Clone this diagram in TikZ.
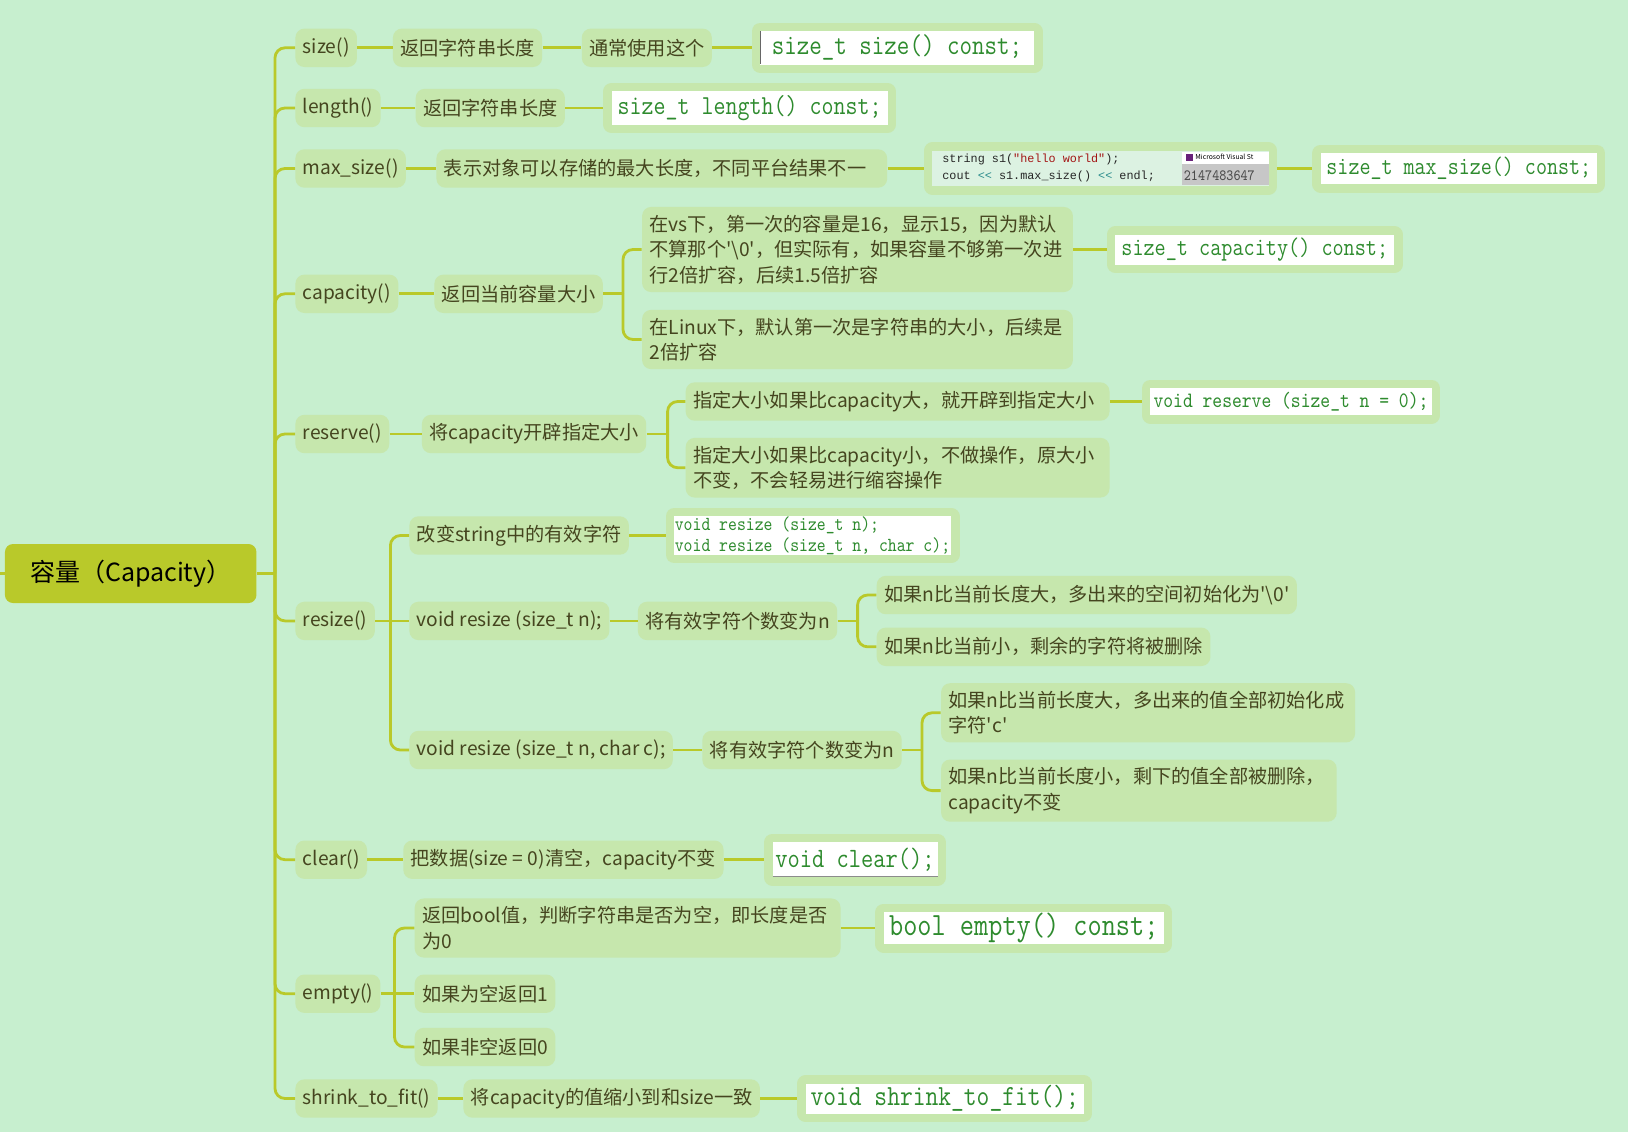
\documentclass[tikz,border=0pt]{standalone}
\usepackage{fontspec}
\setmainfont{Noto Sans CJK SC}
\newfontfamily\codefont[FakeStretch=0.85]{Latin Modern Mono}
\newfontfamily\shotfont{Liberation Mono}
\definecolor{paper}{HTML}{C7EFCF}
\definecolor{leafgreen}{HTML}{C6E7AD}
\definecolor{branch}{HTML}{B9C92A}
\definecolor{ink}{HTML}{45451F}
\definecolor{codegreen}{HTML}{2E8B2E}
\definecolor{shotbg}{HTML}{DCF2E2}
\definecolor{strred}{HTML}{A31515}
\definecolor{opteal}{HTML}{2B8C8C}
\definecolor{vspurple}{HTML}{68217A}

\begin{document}
\begin{tikzpicture}[x=0.5pt,y=-0.5pt,
  link/.style={branch,line width=1.4pt},
  elbow/.style={link,rounded corners=5pt},
  root/.style={fill=branch,rounded corners=4pt,minimum width=125.75pt,minimum height=29.5pt,
    font=\fontsize{12.5}{15}\selectfont,text=black},
  leaf/.style={fill=leafgreen,rounded corners=4.5pt,anchor=west,inner xsep=3.7pt,inner ysep=4pt,
    minimum height=19.2pt,text=ink,align=left,font=\fontsize{9.6}{12.7}\selectfont},
  codebox/.style={fill=white,preaction={draw=leafgreen,line width=8.5pt,line join=round},
    outer sep=4.25pt,inner sep=0pt,text=codegreen},
  codesize/.style={font=\codefont\fontsize{#1}{#1}\selectfont}]

  \useasboundingbox (0,0) rectangle (1628,1132);
  \fill[paper] (0,0) rectangle (1628,1132);

  % root and first level
  \node[root] (root) at (130.7,573.5) {容量（Capacity）};
  \coordinate (feed) at (0,573.5);
  \coordinate (hub) at (275,573.5);
  \node[leaf] (fsize) at (295,47.8) {size()};
  \node[leaf] (flength) at (295,108) {length()};
  \node[leaf] (fmax) at (295,168.5) {max\_size()};
  \node[leaf] (fcap) at (295,293.8) {capacity()};
  \node[leaf] (fres) at (295,434) {reserve()};
  \node[leaf] (fresize) at (295,620.9) {resize()};
  \node[leaf] (fclear) at (295,859.7) {clear()};
  \node[leaf] (fempty) at (295,993.7) {empty()};
  \node[leaf] (fshrink) at (295,1098.5) {shrink\_to\_fit()};

  % size / length / max_size
  \node[leaf] (sizeA) at (392.5,47.8) {返回字符串长度};
  \node[leaf] (sizeB) at (581.4,47.8) {通常使用这个};
  \node[codebox,codesize=14.3,minimum width=137pt,minimum height=16.7pt] (scode) at (897,47.8) {size\_t size() const;};
  \draw[black!60,line width=0.7pt] (760.5,31) -- (760.5,64.4);
  \node[leaf] (lenA) at (415.3,108) {返回字符串长度};
  \node[codebox,codesize=13.7,minimum width=138pt,minimum height=16.6pt] (lcode) at (749.6,108) {size\_t length() const;};
  \node[leaf,text width=218pt] (maxA) at (436,168.5) {表示对象可以存储的最大长度，不同平台结果不一};
  \node[codebox,fill=shotbg,minimum width=168.2pt,minimum height=17.7pt] (shot) at (1100.6,168.5) {};
  \fill[white] (1181.6,151.6) rectangle (1268.8,163.5);
  \fill[black!22] (1181.6,163.5) rectangle (1268.8,185.4);
  \node[anchor=base west,inner sep=0pt,font=\shotfont\fontsize{5.9}{7}\selectfont,text=black!85] (shotA) at (942,162.5)
    {string s1(\textcolor{strred}{"hello world"});};
  \node[anchor=base west,inner sep=0pt,font=\shotfont\fontsize{5.9}{7}\selectfont,text=black!85] (shotB) at (942,179)
    {cout \textcolor{opteal}{<{}<} s1.max\_size() \textcolor{opteal}{<{}<} endl;};
  \fill[vspurple] (1186,153.5) rectangle (1193,160.5);
  \node[anchor=west,inner sep=0pt,font=\fontsize{3.4}{4}\selectfont,text=black] (shotT) at (1195,157.2) {Microsoft Visual St};
  \node[anchor=base west,inner sep=0pt,font=\codefont\fontsize{7.85}{8}\selectfont,text=black!70] (shotN) at (1183.5,180) {2147483647};
  \node[codebox,codesize=12.6,minimum width=138pt,minimum height=15.5pt] (mcode) at (1458.8,168.5) {size\_t max\_size() const;};

  % capacity
  \node[leaf] (capA) at (434,293.8) {返回当前容量大小};
  \coordinate (capK) at (623,293.8);
  \node[leaf,text width=208pt] (capVs) at (641.7,249.5)
    {在vs下，第一次的容量是16，显示15，因为默认\\不算那个\textquotesingle\textbackslash0\textquotesingle，但实际有，如果容量不够第一次进\\行2倍扩容，后续1.5倍扩容};
  \node[leaf,text width=208pt] (capLinux) at (641.7,339.5) {在Linux下，默认第一次是字符串的大小，后续是\\2倍扩容};
  \node[codebox,codesize=12.7,minimum width=139.5pt,minimum height=15pt] (ccode) at (1254.8,249.5) {size\_t capacity() const;};

  % reserve
  \node[leaf] (resA) at (421.5,434) {将capacity开辟指定大小};
  \coordinate (resK) at (667.6,434);
  \node[leaf,text width=204.5pt] (resBig) at (685.3,401.5) {指定大小如果比capacity大，就开辟到指定大小};
  \node[leaf,text width=204.5pt] (resSmall) at (685.3,467.7) {指定大小如果比capacity小，不做操作，原大小\\不变，不会轻易进行缩容操作};
  \node[codebox,codesize=11,minimum width=140.7pt,minimum height=13.5pt] (rcode) at (1291,401.5) {void reserve (size\_t n = 0);};

  % resize
  \coordinate (rzK) at (390.4,620.9);
  \node[leaf] (rzA) at (409,535.5) {改变string中的有效字符};
  \node[codebox,font=\codefont\fontsize{9.95}{10.4}\selectfont,align=left,minimum width=138.5pt,minimum height=19.3pt] (zcode) at (812.5,535.5)
    {void resize (size\_t n);\\void resize (size\_t n, char c);};
  \node[leaf] (rzB) at (409,620.9) {void resize (size\_t n);};
  \node[leaf] (rzBa) at (637.5,620.9) {将有效字符个数变为n};
  \coordinate (rzBK) at (857.6,620.9);
  \node[leaf] (rzB1) at (876.3,595) {如果n比当前长度大，多出来的空间初始化为\textquotesingle\textbackslash0\textquotesingle};
  \node[leaf] (rzB2) at (876.3,646.8) {如果n比当前小，剩余的字符将被删除};
  \node[leaf] (rzC) at (409,750) {void resize (size\_t n, char c);};
  \node[leaf] (rzCa) at (702,750) {将有效字符个数变为n};
  \coordinate (rzCK) at (922,750);
  \node[leaf,text width=199.6pt] (rzC1) at (940.7,712.8) {如果n比当前长度大，多出来的值全部初始化成\\字符\textquotesingle c\textquotesingle};
  \node[leaf,text width=190.4pt] (rzC2) at (940.7,790.6) {如果n比当前长度小，剩下的值全部被删除，\\capacity不变};

  % clear / empty / shrink_to_fit
  \node[leaf] (clrA) at (402.9,859.7) {把数据(size = 0)清空，capacity不变};
  \node[codebox,codesize=14,minimum width=82.5pt,minimum height=17.7pt] (kcode) at (855,859.7) {void clear();};
  \draw[black!45,line width=0.8pt] (772.5,876.5) -- (937.6,876.5);
  \coordinate (empK) at (394.5,993.7);
  \node[leaf,text width=205.5pt] (empA) at (414.3,928) {返回bool值，判断字符串是否为空，即长度是否\\为0};
  \node[leaf] (empB) at (414.3,993.7) {如果为空返回1};
  \node[leaf] (empC) at (414.3,1047) {如果非空返回0};
  \node[codebox,codesize=16.2,minimum width=140pt,minimum height=16pt] (ecode) at (1023.8,928) {bool empty() const;};
  \node[leaf] (shrA) at (463,1098.5) {将capacity的值缩小到和size一致};
  \node[codebox,codesize=14.6,minimum width=139pt,minimum height=15pt] (hcode) at (944.8,1098.5) {void shrink\_to\_fit();};

  % connectors
  \draw[link] (feed) -- (root.west);
  \draw[link] (root.east) -- (hub);
  \draw[elbow] (hub) |- (fsize.west);
  \draw[elbow] (hub) |- (flength.west);
  \draw[elbow] (hub) |- (fmax.west);
  \draw[elbow] (hub) |- (fcap.west);
  \draw[elbow] (hub) |- (fres.west);
  \draw[elbow] (hub) |- (fresize.west);
  \draw[elbow] (hub) |- (fclear.west);
  \draw[elbow] (hub) |- (fempty.west);
  \draw[elbow] (hub) |- (fshrink.west);

  \draw[link] (fsize) -- (sizeA);
  \draw[link] (sizeA) -- (sizeB);
  \draw[link] (sizeB) -- (scode);
  \draw[link] (flength) -- (lenA);
  \draw[link] (lenA) -- (lcode);
  \draw[link] (fmax) -- (maxA);
  \draw[link] (maxA) -- (shot);
  \draw[link] (shot) -- (mcode);

  \draw[link] (fcap) -- (capA);
  \draw[link] (capA) -- (capK);
  \draw[elbow] (capK) |- (capVs.west);
  \draw[elbow] (capK) |- (capLinux.west);
  \draw[link] (capVs.east) -- (ccode);

  \draw[link] (fres) -- (resA);
  \draw[link] (resA) -- (resK);
  \draw[elbow] (resK) |- (resBig.west);
  \draw[elbow] (resK) |- (resSmall.west);
  \draw[link] (resBig) -- (rcode);

  \draw[link] (fresize) -- (rzK);
  \draw[elbow] (rzK) |- (rzA.west);
  \draw[link] (rzK) -- (rzB);
  \draw[elbow] (rzK) |- (rzC.west);
  \draw[link] (rzA) -- (zcode);
  \draw[link] (rzB) -- (rzBa);
  \draw[link] (rzBa) -- (rzBK);
  \draw[elbow] (rzBK) |- (rzB1.west);
  \draw[elbow] (rzBK) |- (rzB2.west);
  \draw[link] (rzC) -- (rzCa);
  \draw[link] (rzCa) -- (rzCK);
  \draw[elbow] (rzCK) |- (rzC1.west);
  \draw[elbow] (rzCK) |- (rzC2.west);

  \draw[link] (fclear) -- (clrA);
  \draw[link] (clrA) -- (kcode);
  \draw[link] (fempty) -- (empK);
  \draw[elbow] (empK) |- (empA.west);
  \draw[link] (empK) -- (empB);
  \draw[elbow] (empK) |- (empC.west);
  \draw[link] (empA) -- (ecode);
  \draw[link] (fshrink) -- (shrA);
  \draw[link] (shrA) -- (hcode);
\end{tikzpicture}
\end{document}
